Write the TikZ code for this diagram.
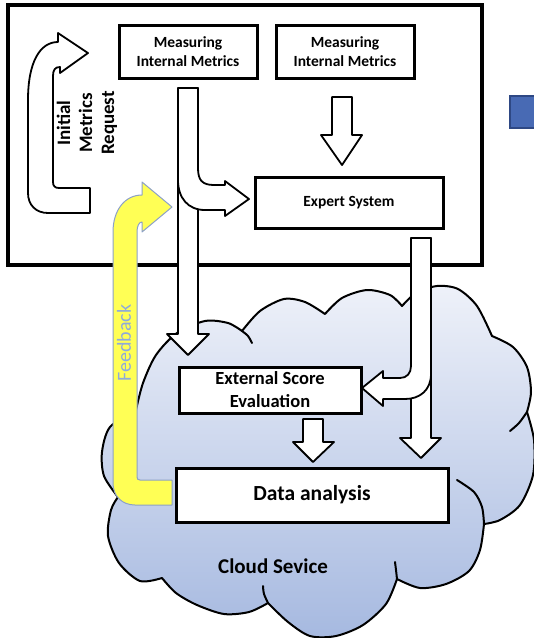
\documentclass[tikz,border=0pt]{standalone}
\usepackage{fontspec}
\setmainfont{Carlito}
\definecolor{cloudtop}{RGB}{238,241,249}
\definecolor{cloudbot}{RGB}{166,185,224}
\definecolor{yel}{RGB}{255,255,85}
\definecolor{yelline}{RGB}{140,160,200}
\definecolor{fbtext}{RGB}{142,170,219}
\definecolor{sqfill}{RGB}{72,106,180}
\definecolor{sqline}{RGB}{46,72,132}
\tikzset{
  blk/.style={draw=black, fill=white, line width=1.8pt, line join=round},
  yarrow/.style={draw=yelline, fill=yel, line width=1pt, line join=round},
  box/.style={draw=black, fill=white, line width=3pt, inner sep=0pt, align=center},
  cloudline/.style={draw=black, line width=2pt, line cap=round},
}
\begin{document}
\begin{tikzpicture}[x=1pt, y=-1pt]
\clip (0,0) rectangle (534,638);
\fill[white] (0,0) rectangle (534,638);
% blue square at the right edge
\draw[fill=sqfill, draw=sqline, line width=1.5pt] (510,96) rectangle (545,128);
% cloud
\draw[top color=cloudtop, bottom color=cloudbot, draw=black, line width=2pt, line join=round]
  plot[smooth] coordinates {(118,497) (104,476) (102,452) (110,427) (136,410)}
  -- plot[smooth] coordinates {(136,410) (143,383) (156,355) (177,333) (205,321) (228,323) (242,331)}
  -- plot[smooth] coordinates {(242,331) (260,311) (284,299) (305,302) (325,314)}
  -- plot[smooth] coordinates {(325,314) (342,298) (367,290) (390,295) (402,306)}
  -- plot[smooth] coordinates {(402,306) (416,293) (437,286) (458,289) (477,306) (492,336)}
  -- plot[smooth] coordinates {(492,336) (513,347) (527,367) (531,392) (527,412)}
  -- plot[smooth] coordinates {(527,412) (534,440) (533,475) (520,505) (500,520) (484,524)}
  -- plot[smooth] coordinates {(484,524) (480,550) (469,571) (446,584) (420,588) (397,579)}
  -- plot[smooth] coordinates {(397,579) (386,604) (363,625) (336,636) (310,636) (288,622) (268,603)}
  -- plot[smooth] coordinates {(268,603) (249,612) (224,614) (197,605) (176,593) (162,578)}
  -- plot[smooth] coordinates {(162,578) (140,581) (119,563) (108,536) (111,510) (118,497)}
  -- cycle;
\draw[cloudline] plot[smooth] coordinates {(242,331) (248,336) (252,343)};
\draw[cloudline] plot[smooth] coordinates {(527,412) (519,423) (510,431)};
\draw[cloudline] plot[smooth] coordinates {(457,480) (474,492) (482,507) (484,524)};
\draw[cloudline] plot[smooth] coordinates {(397,579) (396,570) (395,562)};
\draw[cloudline] plot[smooth] coordinates {(268,603) (264,594) (263,586)};
% frame
\node[draw=black, line width=3.5pt, minimum width=474, minimum height=260, inner sep=0pt] (frame) at (245,135) {};
% Initial metrics request U-arrow
\draw[blk] (90,213) -- (48,213) .. controls (36,213) and (28,205) .. (28,193) -- (28,100)
  .. controls (28,62) and (40,42) .. (58,42) -- (58,33) -- (88,53) -- (60,73) -- (60,67)
  .. controls (55,67) and (53,70) .. (53,76) -- (53,182) .. controls (53,186) and (55,188) .. (59,188)
  -- (90,188) -- cycle;
% straight arrow from left measuring box down to the cloud
\draw[blk] (178,88) -- (198,88) -- (198,334) -- (209,334) -- (188,355) -- (167,334) -- (178,334) -- cycle;
% bent arrow to expert system
\draw[blk] (178,88) -- (198,88) -- (198,168) .. controls (198,180) and (202,185) .. (214,185)
  -- (225,185) -- (225,181) -- (249,199) -- (225,216) -- (225,210) -- (205,210)
  .. controls (188,210) and (178,198) .. (178,180) -- cycle;
% arrow from right measuring box to expert system
\draw[blk] (332,97) -- (352,97) -- (352,135) -- (362,135) -- (342,165) -- (321,135) -- (332,135) -- cycle;
% straight arrow from expert system to data analysis
\draw[blk] (411,238) -- (431,238) -- (431,438) -- (441,438) -- (421,458) -- (400,438) -- (411,438) -- cycle;
% bent arrow to external score evaluation
\draw[blk] (411,238) -- (431,238) -- (431,374) .. controls (431,390) and (420,399) .. (405,399)
  -- (383,399) -- (383,406) -- (362,388) -- (383,371) -- (383,378) -- (400,378)
  .. controls (407,378) and (411,373) .. (411,366) -- cycle;
% arrow external score -> data analysis
\draw[blk] (303,419) -- (323,419) -- (323,442) -- (334,442) -- (313,462) -- (293,442) -- (303,442) -- cycle;
% feedback arrow
\draw[yarrow] (172,480) -- (140,480) .. controls (138,480) and (137,479) .. (137,477) -- (137,232)
  .. controls (137,226) and (139,222) .. (142,222) -- (142,232) -- (172,207) -- (142,182) -- (142,195)
  .. controls (125,195) and (113,210) .. (113,232) -- (113,483) .. controls (113,496) and (122,505) .. (135,505)
  -- (172,505) -- cycle;
% boxes
\node[box, minimum width=138, minimum height=53, font=\bfseries\fontsize{15.5}{19}\selectfont] (m1) at (188,51.5) {Measuring\\Internal Metrics};
\node[box, minimum width=138, minimum height=53, font=\bfseries\fontsize{15.5}{19}\selectfont] (m2) at (345,51.5) {Measuring\\Internal Metrics};
\node[box, minimum width=188, minimum height=51, font=\bfseries\fontsize{15.5}{19}\selectfont] (exp) at (349,202.5) {Expert System};
\node[box, minimum width=182, minimum height=46, font=\bfseries\fontsize{18.5}{23}\selectfont] (ext) at (270,390) {External Score\\Evaluation};
\node[box, minimum width=272, minimum height=54, font=\bfseries\fontsize{21.5}{25}\selectfont] (data) at (312,495) {Data analysis};
% texts
\node[rotate=90, align=center, font=\bfseries\fontsize{19}{22}\selectfont] (imr) at (87,123) {Initial\\Metrics\\Request};
\node[rotate=90, text=fbtext, font=\fontsize{20}{24}\selectfont] (fb) at (124,343) {Feedback};
\node[font=\bfseries\fontsize{21}{25}\selectfont] (cs) at (273,566) {Cloud Sevice};
\end{tikzpicture}
\end{document}
